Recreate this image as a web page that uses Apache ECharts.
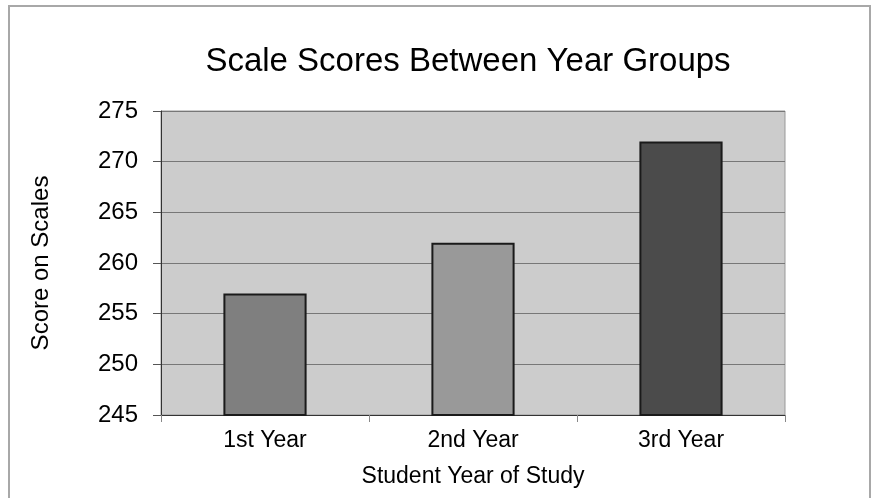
<!DOCTYPE html>
<html>
<head>
<meta charset="utf-8">
<script src="https://cdn.jsdelivr.net/npm/echarts@6/dist/echarts.min.js"></script>
<style>
html,body{margin:0;padding:0;background:#fff;}
#c{width:873px;height:498px;}
</style>
</head>
<body>
<div id="c"></div>
<script>
const categories = ['1st Year', '2nd Year', '3rd Year'];
const scores = [257, 262, 272];
const barColors = ['#7f7f7f', '#999999', '#4b4b4b'];
const titleText = 'Scale Scores Between Year Groups';
const xName = 'Student Year of Study';
const yName = 'Score on Scales';

const chart = echarts.init(document.getElementById('c'), null, {renderer: 'canvas'});
const FONT = '"Liberation Sans", Arial, Helvetica, sans-serif';
chart.setOption({
  animation: false,
  backgroundColor: '#ffffff',
  graphic: [{
    type: 'rect', z: -1,
    shape: {x: 9, y: 6, width: 861, height: 520},
    style: {fill: 'none', stroke: '#a8a8a8', lineWidth: 2}
  }],
  title: {
    text: titleText, left: 463, top: 40, textAlign: 'center',
    textStyle: {fontFamily: FONT, fontSize: 33, fontWeight: 'normal', color: '#000'}
  },
  grid: {
    left: 161, top: 111, right: 88, bottom: 83,
    show: true, backgroundColor: '#cccccc', borderColor: '#999999', borderWidth: 1
  },
  xAxis: {
    type: 'category', data: categories,
    name: xName, nameLocation: 'middle', nameGap: 50,
    nameTextStyle: {fontFamily: FONT, fontSize: 23, color: '#000'},
    axisLine: {lineStyle: {color: '#333', width: 1}},
    axisTick: {show: true, length: 7, lineStyle: {color: '#888'}},
    axisLabel: {fontFamily: FONT, fontSize: 23, color: '#000', margin: 14}
  },
  yAxis: {
    type: 'value', min: 245, max: 275, interval: 5,
    name: yName, nameLocation: 'middle', nameGap: 108, nameRotate: 90,
    nameTextStyle: {fontFamily: FONT, fontSize: 24, color: '#000'},
    axisLine: {show: true, lineStyle: {color: '#333', width: 1}},
    axisTick: {show: true, length: 8, lineStyle: {color: '#555'}},
    axisLabel: {fontFamily: FONT, fontSize: 24, color: '#000', margin: 23},
    splitLine: {show: true, lineStyle: {color: '#777', width: 1}}
  },
  series: [{
    type: 'bar',
    data: scores.map((v, i) => ({value: v, itemStyle: {color: barColors[i]}})),
    barWidth: '40%',
    itemStyle: {borderColor: '#1a1a1a', borderWidth: 2}
  }]
});
</script>
</body>
</html>
